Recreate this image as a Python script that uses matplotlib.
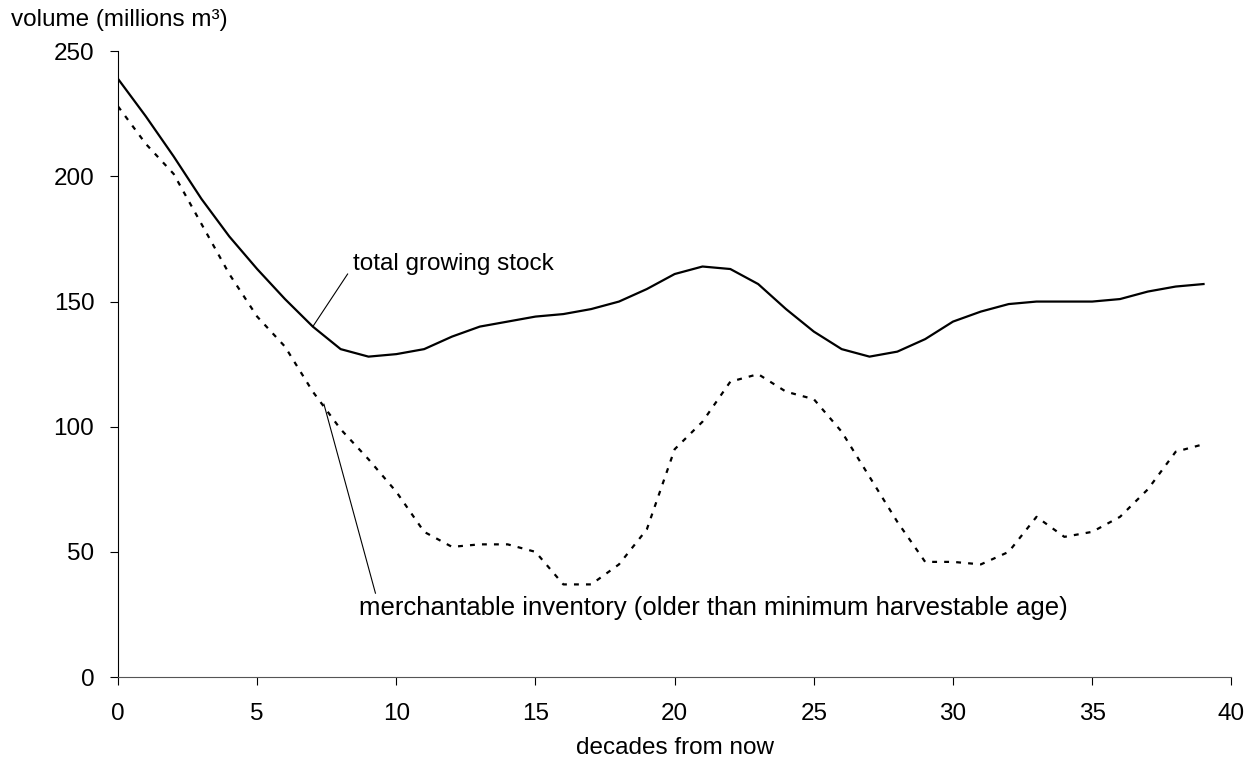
import matplotlib.pyplot as plt

plt.rcParams['font.family'] = ['Liberation Sans', 'DejaVu Sans']

# decades from now
decades = list(range(40))

# total growing stock (millions m3)
total_stock = [239, 224, 208, 191, 176, 163, 151, 140, 131, 128,
               129, 131, 136, 140, 142, 144, 145, 147, 150, 155,
               161, 164, 163, 157, 147, 138, 131, 128, 130, 135,
               142, 146, 149, 150, 150, 150, 151, 154, 156, 157]

# merchantable inventory (millions m3)
merch_inv = [228, 213, 201, 181, 161, 144, 132, 114, 99, 87,
             74, 58, 52, 53, 53, 50, 37, 37, 45, 59,
             91, 102, 118, 121, 114, 111, 98, 80, 62, 46,
             46, 45, 50, 64, 56, 58, 64, 75, 90, 93]

FS = 17.5

fig = plt.figure(figsize=(12.51, 7.65), dpi=100)
ax = fig.add_axes([0.0943, 0.115, 0.890, 0.818])

ax.plot(decades, total_stock, color='black', lw=1.6)
ax.plot(decades, merch_inv, color='black', lw=1.6, linestyle=(0, (2.2, 3.2)))

ax.set_xlim(0, 40)
ax.set_ylim(0, 250)
ax.set_xticks(range(0, 41, 5))
ax.set_yticks(range(0, 251, 50))
ax.tick_params(direction='out', length=6, width=0.8, labelsize=FS)
ax.tick_params(axis='y', pad=11)
ax.tick_params(axis='x', pad=13)

for side in ['top', 'right']:
    ax.spines[side].set_visible(False)
ax.spines['left'].set_linewidth(0.8)
ax.spines['bottom'].set_linewidth(0.8)
ax.spines['bottom'].set_color('#555555')

ax.set_xlabel('decades from now', fontsize=FS, labelpad=8)
fig.text(0.009, 0.974, 'volume (millions m³)', fontsize=FS, ha='left', va='center')

# leader lines and their labels
ax.plot([7, 8.25], [total_stock[7], 161], color='black', lw=0.8)
ax.text(8.45, 165, 'total growing stock', fontsize=FS, va='center', ha='left')

ax.plot([7.4, 9.25], [109, 33.5], color='black', lw=0.8)
ax.text(8.65, 27.5, 'merchantable inventory (older than minimum harvestable age)',
        fontsize=18.5, va='center', ha='left')

fig.savefig('out.png', dpi=100)
